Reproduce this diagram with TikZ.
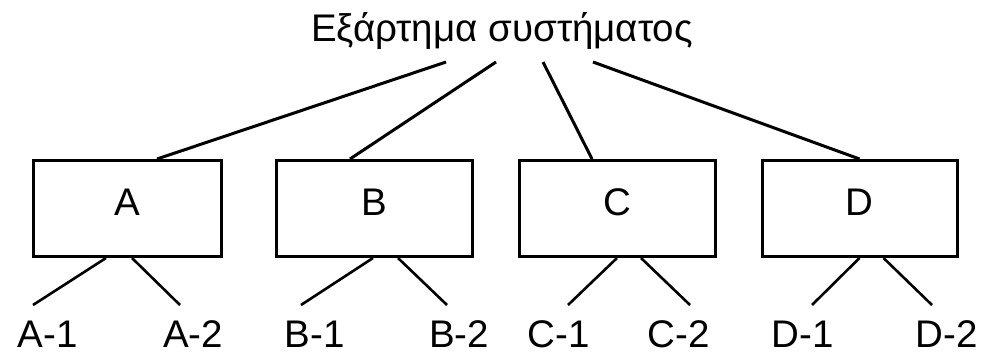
\documentclass[tikz,border=0pt]{standalone}
\usepackage{fontspec}
\setmainfont{Liberation Sans}
\begin{document}
\begin{tikzpicture}[x=1pt,y=-1pt,
  txt/.style={font=\fontsize{38.5}{44}\selectfont},
  box/.style={txt,draw,line width=3pt,minimum height=96pt,inner sep=0pt,
    text height=27pt,text depth=14pt},
  lbl/.style={txt,inner sep=0pt,anchor=base},
  link/.style={line width=3pt},
  sub/.style={line width=2.6pt}]
\useasboundingbox (0,0) rectangle (984,351);

% root label
\node[lbl] (root) at (502,41.5) {Εξάρτημα συστήματος};

% first level
\node[box,minimum width=188pt] (A) at (127,208.5) {A};
\node[box,minimum width=196pt] (B) at (374,208.5) {B};
\node[box,minimum width=196pt] (C) at (617,208.5) {C};
\node[box,minimum width=195pt] (D) at (859.5,208.5) {D};

% second level
\node[lbl] (A1) at (47.5,347) {A-1};
\node[lbl] (A2) at (193,347) {A-2};
\node[lbl] (B1) at (314.5,347) {B-1};
\node[lbl] (B2) at (459,347) {B-2};
\node[lbl] (C1) at (558.5,347) {C-1};
\node[lbl] (C2) at (679,347) {C-2};
\node[lbl] (D1) at (802.5,347) {D-1};
\node[lbl] (D2) at (947,347) {D-2};

% line ends under the root label
\coordinate (rA) at (446,62);
\coordinate (rB) at (496,62);
\coordinate (rC) at (543,62);
\coordinate (rD) at (593,62);

% line ends above the part labels
\coordinate (eA1) at (33,305);
\coordinate (eA2) at (180,305);
\coordinate (eB1) at (301,305);
\coordinate (eB2) at (447,305);
\coordinate (eC1) at (568,305);
\coordinate (eC2) at (690,305);
\coordinate (eD1) at (812,305);
\coordinate (eD2) at (932,305);

\draw[link] (rA) -- ([xshift=30pt]A.north);
\draw[link] (rB) -- ([xshift=-24pt]B.north);
\draw[link] (rC) -- ([xshift=-25pt]C.north);
\draw[link] (rD) -- ([xshift=0pt]D.north);

\draw[sub] ([xshift=-21pt]A.south) -- (eA1);
\draw[sub] ([xshift=5pt]A.south) -- (eA2);
\draw[sub] ([xshift=-1pt]B.south) -- (eB1);
\draw[sub] ([xshift=24pt]B.south) -- (eB2);
\draw[sub] ([xshift=0pt]C.south) -- (eC1);
\draw[sub] ([xshift=24pt]C.south) -- (eC2);
\draw[sub] ([xshift=0pt]D.south) -- (eD1);
\draw[sub] ([xshift=24pt]D.south) -- (eD2);
\end{tikzpicture}
\end{document}
